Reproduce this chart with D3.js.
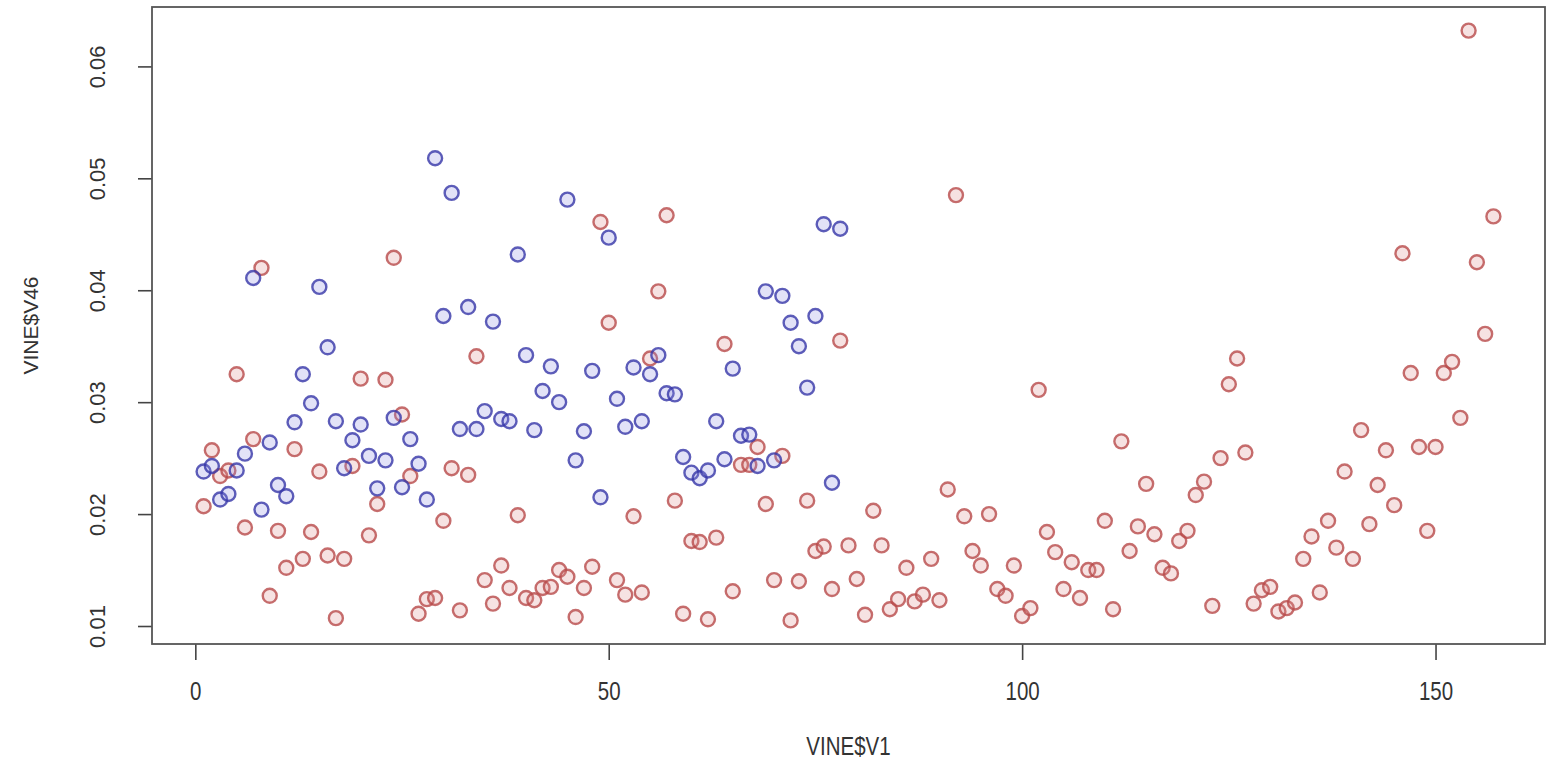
<!DOCTYPE html>
<html>
<head>
<meta charset="utf-8">
<script src="https://cdn.jsdelivr.net/npm/d3@7"></script>
<style>
  body { margin: 0; background: #fff; }
  text { font-family: "Liberation Sans", Arial, sans-serif; }
</style>
</head>
<body>
<div id="canvas"></div>
<script>
// VINE$V46 values, red series (index 1..157)
var redV46 = [
  0.0207, 0.0257, 0.0234, 0.0239, 0.0325, 0.0188, 0.0267, 0.0420, 0.0127, 0.0185,
  0.0152, 0.0258, 0.0160, 0.0184, 0.0238, 0.0163, 0.0107, 0.0160, 0.0243, 0.0321,
  0.0181, 0.0209, 0.0320, 0.0429, 0.0289, 0.0234, 0.0111, 0.0124, 0.0125, 0.0194,
  0.0241, 0.0114, 0.0235, 0.0341, 0.0141, 0.0120, 0.0154, 0.0134, 0.0199, 0.0125,
  0.0123, 0.0134, 0.0135, 0.0150, 0.0144, 0.0108, 0.0134, 0.0153, 0.0461, 0.0371,
  0.0141, 0.0128, 0.0198, 0.0130, 0.0339, 0.0399, 0.0467, 0.0212, 0.0111, 0.0176,
  0.0175, 0.0106, 0.0179, 0.0352, 0.0131, 0.0244, 0.0244, 0.0260, 0.0209, 0.0141,
  0.0252, 0.0105, 0.0140, 0.0212, 0.0167, 0.0171, 0.0133, 0.0355, 0.0172, 0.0142,
  0.0110, 0.0203, 0.0172, 0.0115, 0.0124, 0.0152, 0.0122, 0.0128, 0.0160, 0.0123,
  0.0222, 0.0485, 0.0198, 0.0167, 0.0154, 0.0200, 0.0133, 0.0127, 0.0154, 0.0109,
  0.0116, 0.0311, 0.0184, 0.0166, 0.0133, 0.0157, 0.0125, 0.0150, 0.0150, 0.0194,
  0.0115, 0.0265, 0.0167, 0.0189, 0.0227, 0.0182, 0.0152, 0.0147, 0.0176, 0.0185,
  0.0217, 0.0229, 0.0118, 0.0250, 0.0316, 0.0339, 0.0255, 0.0120, 0.0132, 0.0135,
  0.0113, 0.0116, 0.0121, 0.0160, 0.0180, 0.0130, 0.0194, 0.0170, 0.0238, 0.0160,
  0.0275, 0.0191, 0.0226, 0.0257, 0.0208, 0.0433, 0.0326, 0.0260, 0.0185, 0.0260,
  0.0326, 0.0336, 0.0286, 0.0632, 0.0425, 0.0361, 0.0466
];

// VINE$V46 values, blue series (index 1..78)
var blueV46 = [
  0.0238, 0.0243, 0.0213, 0.0218, 0.0239, 0.0254, 0.0411, 0.0204, 0.0264, 0.0226,
  0.0216, 0.0282, 0.0325, 0.0299, 0.0403, 0.0349, 0.0283, 0.0241, 0.0266, 0.0280,
  0.0252, 0.0223, 0.0248, 0.0286, 0.0224, 0.0267, 0.0245, 0.0213, 0.0518, 0.0377,
  0.0487, 0.0276, 0.0385, 0.0276, 0.0292, 0.0372, 0.0285, 0.0283, 0.0432, 0.0342,
  0.0275, 0.0310, 0.0332, 0.0300, 0.0481, 0.0248, 0.0274, 0.0328, 0.0215, 0.0447,
  0.0303, 0.0278, 0.0331, 0.0283, 0.0325, 0.0342, 0.0308, 0.0307, 0.0251, 0.0237,
  0.0232, 0.0239, 0.0283, 0.0249, 0.0330, 0.0270, 0.0271, 0.0243, 0.0399, 0.0248,
  0.0395, 0.0371, 0.0350, 0.0313, 0.0377, 0.0459, 0.0228, 0.0455
];

var xTicks = [0, 50, 100, 150];
var yTicks = [0.01, 0.02, 0.03, 0.04, 0.05, 0.06];
var xLabel = "VINE$V1";
var yLabel = "VINE$V46";

var winWidth = 1548, winHeight = 766;

// plot box (R style)
const margin = { top: 7, right: 3, bottom: 122, left: 152 },
  width = winWidth - margin.left - margin.right,
  height = winHeight - margin.top - margin.bottom;

var svg = d3.select("#canvas").append("svg")
  .attr("width", winWidth)
  .attr("height", winHeight);

var g = svg.append("g")
  .attr("transform", "translate(" + margin.left + "," + margin.top + ")");

// R pads the data range by 4% on each side
function rRange(ext) {
  var pad = (ext[1] - ext[0]) * 0.04;
  return [ext[0] - pad, ext[1] + pad];
}

var x = d3.scaleLinear()
  .domain(rRange([1, redV46.length]))
  .range([0, width]);
var y = d3.scaleLinear()
  .domain(rRange(d3.extent(redV46.concat(blueV46))))
  .range([height, 0]);

var redPts = redV46.map(function(v, i) { return { idx: i + 1, v: v }; });
var bluePts = blueV46.map(function(v, i) { return { idx: i + 1, v: v }; });

function drawPoints(data, stroke, fill) {
  g.append("g").selectAll("circle")
    .data(data)
    .enter().append("circle")
    .attr("cx", function(d) { return x(d.idx); })
    .attr("cy", function(d) { return y(d.v); })
    .attr("r", 7)
    .attr("fill", fill)
    .attr("stroke", stroke)
    .attr("stroke-width", 2.4)
    .attr("stroke-opacity", 0.8);
}

drawPoints(redPts, "#b84a4a", "rgba(220,140,140,0.25)");
drawPoints(bluePts, "#3636a8", "rgba(140,140,225,0.25)");

// axes
var xAxis = d3.axisBottom(x)
  .tickValues(xTicks)
  .tickSize(16)
  .tickPadding(22)
  .tickFormat(d3.format("d"));

var yAxis = d3.axisLeft(y)
  .tickValues(yTicks)
  .tickSize(14)
  .tickFormat(d3.format(".2f"));

var gX = g.append("g")
  .attr("transform", "translate(0," + height + ")")
  .call(xAxis);
gX.select(".domain").remove();
gX.selectAll("line").attr("stroke", "#444").attr("stroke-width", 1.6);
// the original text looks narrow and tall
gX.selectAll(".tick text")
  .attr("fill", "#333")
  .style("font-size", "25px")
  .attr("transform", "scale(0.82,1)");

var gY = g.append("g").call(yAxis);
gY.select(".domain").remove();
gY.selectAll("line").attr("stroke", "#444").attr("stroke-width", 1.6);
gY.selectAll("text")
  .attr("fill", "#333")
  .style("font-size", "22px")
  .attr("text-anchor", "middle")
  .attr("dy", null)
  .attr("x", null)
  .attr("transform", "translate(-55,0) rotate(-90)")
  .attr("dominant-baseline", "central");

// box
g.append("rect")
  .attr("width", width)
  .attr("height", height)
  .attr("fill", "none")
  .attr("stroke", "#555")
  .attr("stroke-width", 1.8);

// axis titles
svg.append("text")
  .attr("transform", "translate(" + (margin.left + width / 2) + ",755) scale(0.82,1)")
  .attr("text-anchor", "middle")
  .attr("fill", "#333")
  .style("font-size", "25px")
  .text(xLabel);

svg.append("text")
  .attr("transform", "translate(38," + (margin.top + height / 2) + ") rotate(-90)")
  .attr("text-anchor", "middle")
  .attr("fill", "#333")
  .style("font-size", "21px")
  .text(yLabel);
</script>
</body>
</html>
